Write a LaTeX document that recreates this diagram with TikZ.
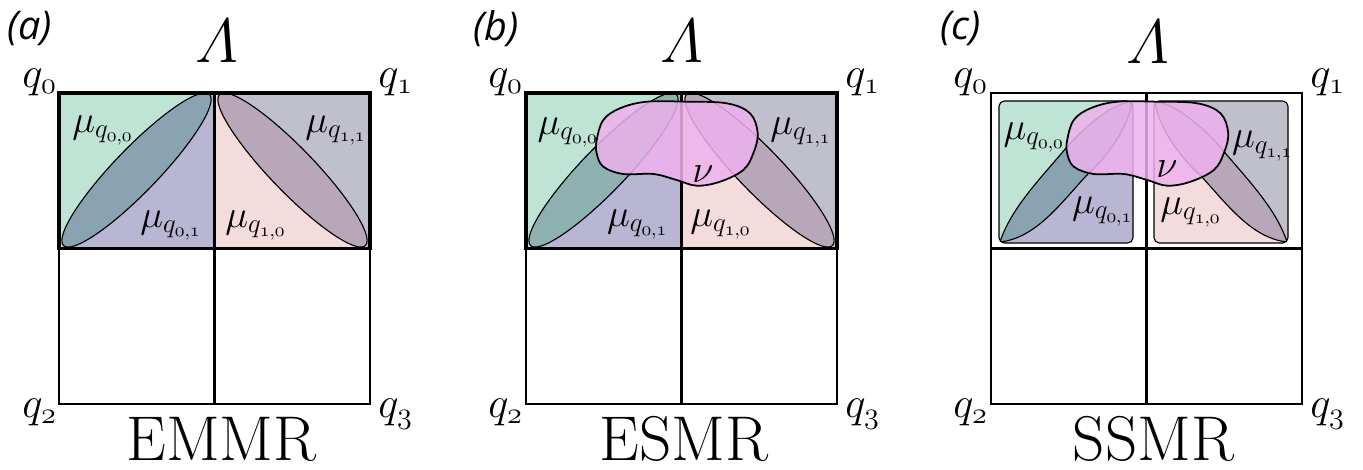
\RequirePackage{fix-cm}
\documentclass[tikz,border=0pt]{standalone}
\usepackage{amsmath}
\usepackage[no-math]{fontspec}
\newfontfamily\panelfont{Open Sans}
\definecolor{cgreen}{HTML}{BFE3D4}
\definecolor{cpurp}{HTML}{B8B6D3}
\definecolor{cdkb}{HTML}{8AA3B2}
\definecolor{cteal}{HTML}{8FB0B0}
\definecolor{cpink}{HTML}{F4DCDC}
\definecolor{cgray}{HTML}{C0BFCC}
\definecolor{cmauve}{HTML}{B8A7B8}
\definecolor{cnu}{HTML}{EDB2ED}
\tikzset{
 gridthin/.style={line width=1.4pt},
 gridthick/.style={line width=2pt},
 outl/.style={line width=0.65pt},
 nublob/.style={fill=cnu, fill opacity=0.85, draw=black, line width=1pt},
 qlab/.style={inner sep=0pt, anchor=base west, font=\fontsize{24.5}{28}\selectfont},
 mulab/.style={inner sep=0pt, anchor=base west, font=\fontsize{22}{26}\selectfont},
 nulab/.style={inner sep=0pt, anchor=base, font=\fontsize{22}{26}\selectfont},
 lamlab/.style={inner sep=0pt, font=\fontsize{35.7}{40}\selectfont},
 titlelab/.style={inner sep=0pt, anchor=base, font=\fontsize{36}{40}\selectfont},
 panlab/.style={inner sep=0pt, anchor=west, font=\panelfont\itshape\fontsize{22.5}{26}\selectfont},
}
\newcommand\muq[2]{$\mu_{q_{\mathnormal{#1},\mathnormal{#2}}}$}
\newcommand\qq[1]{$q_{\mathnormal{#1}}$}
\newcommand\EllCell[3]{%
 \begin{scope}
  \clip (0,0) rectangle (155.5,155.5);
  \fill[#2] (0,0) rectangle (155.5,155.5);
  \fill[#1] (0,0) -- (152,0) -- (1.6,155.5) -- (0,155.5) -- cycle;
  \draw[outl, fill=#3, rotate around={46:(77.5,77)}] (77.5,77) ellipse [x radius=105, y radius=22];
 \end{scope}}
\newcommand\BandGroup[3]{%
 \begin{scope}
  \clip[rounded corners=3pt] (8,8) rectangle (142,150);
  \fill[#2] (0,0) rectangle (160,160);
  \fill[#1] (0,0) -- (148.5,0) -- (1.5,157) -- (0,157) -- cycle;
  \draw[outl, fill=#3] (9,149) .. controls (20,115) and (50,85) .. (75,55) .. controls (95,32) and (120,12) .. (141,8) .. controls (138,35) and (115,65) .. (95,83) .. controls (70,110) and (45,145) .. cycle;
 \end{scope}
 \draw[outl, rounded corners=3pt] (8,8) rectangle (142,150);}
\newcommand\NuBlob{%
 \draw[nublob] plot[smooth cycle, tension=0.6] coordinates {(70.7,47) (77.3,27) (94,15.3) (120.7,8.7) (160.7,8.7) (200.7,10.3) (224,20.3) (231.7,40.3) (227.3,60.3) (217.3,77) (194,88.7) (170.7,92.7) (150.7,87) (127.3,81) (97.3,81) (77.3,73.7) (70.7,60.3)};}
\begin{document}
\begin{tikzpicture}[x=0.02cm, y=-0.02cm]
\useasboundingbox (0,0) rectangle (1363,470);
% ---------- panel (a)
\begin{scope}[shift={(59,93)}]
 \EllCell{cgreen}{cpurp}{cdkb}
 \begin{scope}[shift={(311,0)}, xscale=-1]\EllCell{cgray}{cpink}{cmauve}\end{scope}
 \draw[gridthin] (0,155.5) rectangle (311,311);
 \draw[gridthin] (155.5,155.5) -- (155.5,311);
 \draw[gridthick] (0,0) rectangle (311,155.5);
 \draw[gridthick] (155.5,0) -- (155.5,155.5);
 \node[panlab] (pa) at (-52,-64) {(a)};
 \node[lamlab] (La) at (157.5,-51.5) {$\varLambda$};
 \node[qlab] (qa0) at (-37,-6) {\qq{0}};
 \node[qlab] (qa1) at (319,-6) {\qq{1}};
 \node[qlab] (qa2) at (-37,324.5) {\qq{2}};
 \node[qlab] (qa3) at (319,324.5) {\qq{3}};
 \node[titlelab] (ta) at (162.5,367) {EMMR};
 \node[mulab] (ma00) at (13,39) {\muq{0}{0}};
 \node[mulab] (ma01) at (81,134) {\muq{0}{1}};
 \node[mulab] (ma10) at (166,134) {\muq{1}{0}};
 \node[mulab] (ma11) at (246,39) {\muq{1}{1}};
\end{scope}
% ---------- panel (b)
\begin{scope}[shift={(526,93)}]
 \EllCell{cgreen}{cpurp}{cteal}
 \begin{scope}[shift={(311,0)}, xscale=-1]\EllCell{cgray}{cpink}{cmauve}\end{scope}
 \draw[gridthin] (0,155.5) rectangle (311,311);
 \draw[gridthin] (155.5,155.5) -- (155.5,311);
 \draw[gridthick] (0,0) rectangle (311,155.5);
 \draw[gridthick] (155.5,0) -- (155.5,155.5);
 \NuBlob
 \node[panlab] (pb) at (-53,-64) {(b)};
 \node[lamlab] (Lb) at (155.5,-51.5) {$\varLambda$};
 \node[qlab] (qb0) at (-38,-6) {\qq{0}};
 \node[qlab] (qb1) at (319,-6) {\qq{1}};
 \node[qlab] (qb2) at (-38,324.5) {\qq{2}};
 \node[qlab] (qb3) at (319,324.5) {\qq{3}};
 \node[titlelab] (tb) at (158,367) {ESMR};
 \node[mulab] (mb00) at (11.3,41) {\muq{0}{0}};
 \node[mulab] (mb01) at (80.7,133) {\muq{0}{1}};
 \node[mulab] (mb10) at (164,133) {\muq{1}{0}};
 \node[mulab] (mb11) at (244,41) {\muq{1}{1}};
 \node[nulab] (nub) at (177,89) {$\nu$};
\end{scope}
% ---------- panel (c)
\begin{scope}[shift={(991,93)}]
 \BandGroup{cgreen}{cpurp}{cdkb}
 \begin{scope}[shift={(305,0)}, xscale=-1]\BandGroup{cgray}{cpink}{cmauve}\end{scope}
 \draw[gridthin] (0,0) rectangle (311,311);
 \draw[gridthin] (155.5,0) -- (155.5,311);
 \draw[gridthin] (0,155.5) -- (311,155.5);
 \begin{scope}[shift={(5.5,0)}]\NuBlob\end{scope}
 \node[panlab] (pc) at (-51,-64) {(c)};
 \node[lamlab] (Lc) at (156.5,-50.5) {$\varLambda$};
 \node[qlab] (qc0) at (-38,-6) {\qq{0}};
 \node[qlab] (qc1) at (319,-6) {\qq{1}};
 \node[qlab] (qc2) at (-38,324.5) {\qq{2}};
 \node[qlab] (qc3) at (319,324.5) {\qq{3}};
 \node[titlelab] (tc) at (162.5,367) {SSMR};
 \node[mulab] (mc00) at (12.3,46) {\muq{0}{0}};
 \node[mulab] (mc01) at (80.7,120) {\muq{0}{1}};
 \node[mulab] (mc10) at (169,121) {\muq{1}{0}};
 \node[mulab] (mc11) at (240.7,54.5) {\muq{1}{1}};
 \node[nulab] (nuc) at (176,84) {$\nu$};
\end{scope}
\end{tikzpicture}
\end{document}
